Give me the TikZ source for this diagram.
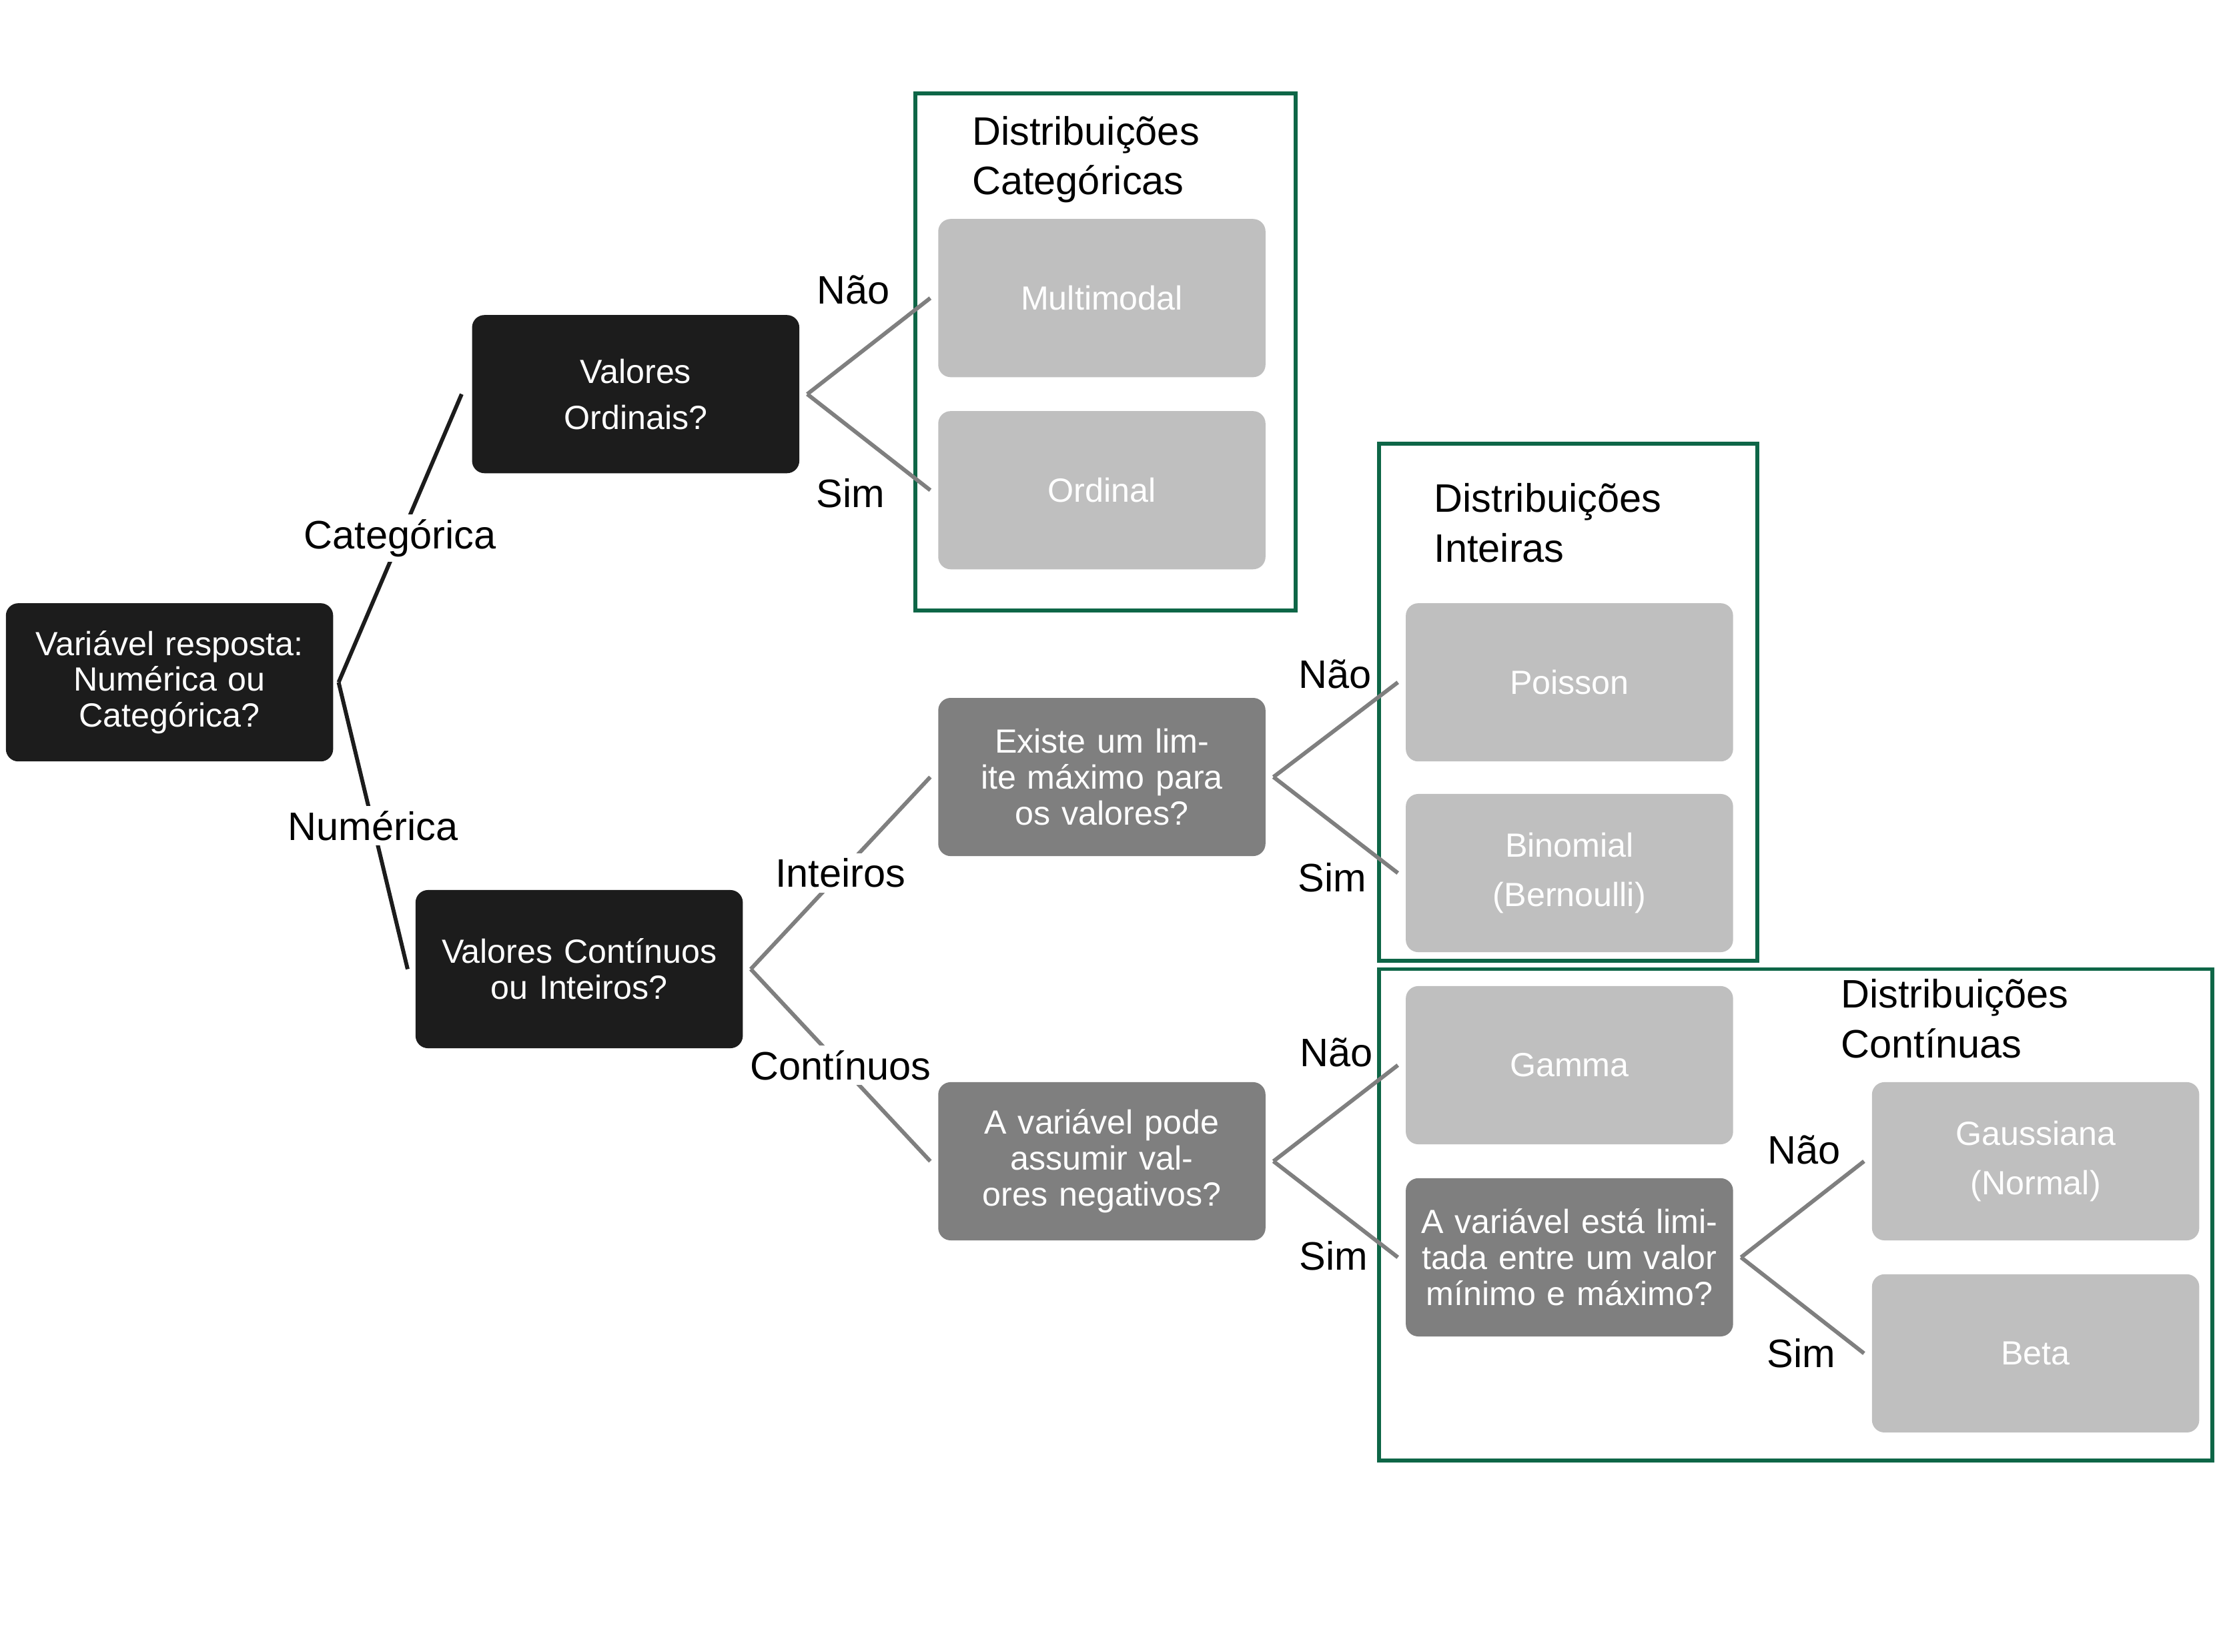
\documentclass[tikz,border=0pt]{standalone}
\usepackage{fontspec}
\setmainfont{Liberation Sans}
\usetikzlibrary{arrows.meta}
\definecolor{boxblack}{HTML}{1C1C1C}
\definecolor{boxdark}{HTML}{7F7F7F}
\definecolor{boxlight}{HTML}{BFBFBF}
\definecolor{framegreen}{HTML}{0E6647}
\begin{document}
\begin{tikzpicture}[x=0.02cm,y=-0.02cm,
    box/.style={rounded corners=5pt, minimum width=4.6cm, minimum height=2.24cm,
      text width=4.4cm, align=center, text=white, font=\fontsize{13.5}{14.5}\selectfont},
    qblack/.style={box, fill=boxblack},
    qdark/.style={box, fill=boxdark},
    leaf/.style={box, fill=boxlight, font=\fontsize{13.5}{20}\selectfont},
    lbl/.style={font=\fontsize{16}{17}\selectfont},
    cut/.style={lbl, fill=white, inner sep=2pt},
    title/.style={font=\fontsize{16}{20}\selectfont, align=left, anchor=north west},
    grp/.style={draw=framegreen, line width=1.6pt},
    dark/.style={draw=boxblack, line width=1.6pt},
    gray/.style={draw=boxdark, line width=1.6pt}]
  \useasboundingbox (0,0) rectangle (1568,1169);

  % group frames
  \draw[grp] (648,66) rectangle (917,432);
  \draw[grp] (976,314) rectangle (1244,680);
  \draw[grp] (976,686) rectangle (1566,1034);
  \node[title] (tcat) at (682,76) {Distribuições\\Categóricas};
  \node[title] (tint) at (1009,336) {Distribuições\\Inteiras};
  \node[title] (tcon) at (1297,687) {Distribuições\\Contínuas};

  % questions
  \node[qblack] (root) at (120,483) {Variável resposta: Numérica ou Categórica?};
  \node[qblack] (ordq) at (450,279) {Valores\\[4pt]Ordinais?};
  \node[qblack] (contq) at (410,686) {Valores Contínuos ou Inteiros?};
  \node[qdark] (limq) at (780,550) {Existe um limite máximo para os valores?};
  \node[qdark] (negq) at (780,822) {A variável pode assumir valores negativos?};
  \node[qdark] (bndq) at (1111,890) {A variável está limitada entre um valor mínimo e máximo?};

  % leaves
  \node[leaf] (multi) at (780,211) {Multimodal};
  \node[leaf] (ordi) at (780,347) {Ordinal};
  \node[leaf] (pois) at (1111,483) {Poisson};
  \node[leaf] (bino) at (1111,618) {Binomial\\(Bernoulli)};
  \node[leaf] (gamm) at (1111,754) {Gamma};
  \node[leaf] (gaus) at (1441,822) {Gaussiana\\(Normal)};
  \node[leaf] (beta) at (1441,958) {Beta};

  % connectors
  \draw[dark] ([xshift=2pt]root.east) -- node[cut] {Categórica} ([xshift=-4pt]ordq.west);
  \draw[dark] ([xshift=2pt]root.east) -- node[cut] {Numérica} ([xshift=-3pt]contq.west);
  \draw[gray] ([xshift=3pt]contq.east) -- node[cut] {Inteiros} ([xshift=-3pt]limq.west);
  \draw[gray] ([xshift=3pt]contq.east) -- node[cut] {Contínuos} ([xshift=-3pt]negq.west);

  \draw[gray] ([xshift=3pt]ordq.east) -- ([xshift=-3pt]multi.west);
  \draw[gray] ([xshift=3pt]ordq.east) -- ([xshift=-3pt]ordi.west);
  \node[lbl] (n1) at (604,205) {Não};
  \node[lbl] (s1) at (602,349) {Sim};

  \draw[gray] ([xshift=3pt]limq.east) -- ([xshift=-3pt]pois.west);
  \draw[gray] ([xshift=3pt]limq.east) -- ([xshift=-3pt]bino.west);
  \node[lbl] (n2) at (945,477) {Não};
  \node[lbl] (s2) at (943,621) {Sim};

  \draw[gray] ([xshift=3pt]negq.east) -- ([xshift=-3pt]gamm.west);
  \draw[gray] ([xshift=3pt]negq.east) -- ([xshift=-3pt]bndq.west);
  \node[lbl] (n3) at (946,745) {Não};
  \node[lbl] (s3) at (944,889) {Sim};

  \draw[gray] ([xshift=3pt]bndq.east) -- ([xshift=-3pt]gaus.west);
  \draw[gray] ([xshift=3pt]bndq.east) -- ([xshift=-3pt]beta.west);
  \node[lbl] (n4) at (1277,814) {Não};
  \node[lbl] (s4) at (1275,958) {Sim};
\end{tikzpicture}
\end{document}
